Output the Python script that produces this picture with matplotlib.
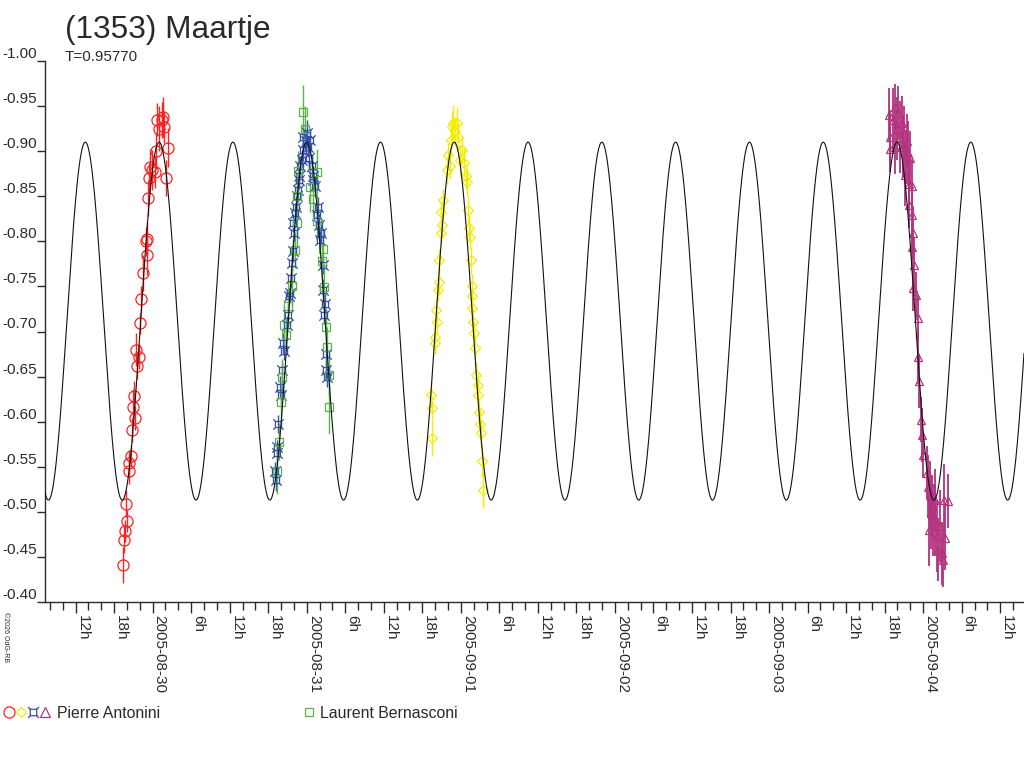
import datetime
import numpy as np
import matplotlib
matplotlib.use('Agg')
import matplotlib.pyplot as plt
import matplotlib.dates as mdates
from matplotlib.lines import Line2D
from matplotlib.path import Path
from matplotlib.legend_handler import HandlerTuple
from matplotlib.ticker import MultipleLocator, FormatStrFormatter, FuncFormatter

plt.rcParams['font.family'] = ['Liberation Sans', 'DejaVu Sans']

# times: days since 2005-08-29 00:00 UT, values: relative magnitude
BASE = datetime.datetime(2005, 8, 29)
PERIOD = 0.95770
EPOCH = 0.563          # time of a maximum of the fitted curve
MEAN_MAG = -0.7115
HALF_AMP = 0.1985
X_RANGE = (0.3014, 6.6545)

red_t = [0.806, 0.816, 0.821, 0.829, 0.832, 0.845, 0.849, 0.858, 0.864, 0.871,
         0.879, 0.886, 0.894, 0.900, 0.910, 0.920, 0.926, 0.939, 0.955, 0.961,
         0.965, 0.972, 0.974, 0.983, 0.994, 1.015, 1.022, 1.030, 1.043, 1.059,
         1.069, 1.074, 1.087, 1.102]
red_m = [-0.441, -0.469, -0.479, -0.509, -0.490, -0.545, -0.554, -0.562, -0.591, -0.616,
         -0.629, -0.604, -0.680, -0.662, -0.672, -0.709, -0.736, -0.765, -0.800, -0.785,
         -0.803, -0.848, -0.870, -0.882, -0.879, -0.877, -0.900, -0.935, -0.925, -0.935,
         -0.938, -0.927, -0.870, -0.904]
red_e = [0.020, 0.015, 0.012, 0.015, 0.012, 0.014, 0.015, 0.012, 0.013, 0.020,
         0.016, 0.013, 0.018, 0.015, 0.014, 0.012, 0.015, 0.020, 0.016, 0.022,
         0.018, 0.020, 0.017, 0.020, 0.022, 0.018, 0.020, 0.018, 0.025, 0.020,
         0.022, 0.018, 0.020, 0.022]

blue_t = [1.794, 1.800, 1.805, 1.809, 1.815, 1.826, 1.831, 1.841, 1.848, 1.852,
          1.870, 1.880, 1.887, 1.891, 1.896, 1.902, 1.909, 1.913, 1.917, 1.924,
          1.930, 1.939, 1.945, 1.950, 1.952, 1.956, 1.967, 1.974, 1.978, 1.995,
          2.000, 2.010, 2.017, 2.021, 2.032, 2.039, 2.043, 2.054, 2.065, 2.075,
          2.082, 2.086, 2.092, 2.104, 2.107, 2.110, 2.118, 2.122, 2.125, 2.133]
blue_m = [-0.545, -0.535, -0.565, -0.572, -0.597, -0.639, -0.630, -0.657, -0.687, -0.678,
          -0.707, -0.718, -0.739, -0.743, -0.759, -0.776, -0.789, -0.820, -0.809, -0.831,
          -0.838, -0.850, -0.857, -0.872, -0.868, -0.883, -0.890, -0.916, -0.901, -0.911,
          -0.920, -0.905, -0.892, -0.912, -0.883, -0.868, -0.872, -0.861, -0.829, -0.838,
          -0.818, -0.802, -0.809, -0.774, -0.746, -0.718, -0.731, -0.657, -0.675, -0.649]
blue_e = [0.010, 0.012, 0.010, 0.008, 0.010, 0.012, 0.010, 0.009, 0.011, 0.010,
          0.010, 0.012, 0.009, 0.010, 0.011, 0.010, 0.012, 0.010, 0.009, 0.011,
          0.012, 0.010, 0.013, 0.011, 0.010, 0.012, 0.011, 0.014, 0.012, 0.013,
          0.015, 0.012, 0.011, 0.013, 0.012, 0.010, 0.011, 0.012, 0.010, 0.011,
          0.012, 0.010, 0.011, 0.010, 0.012, 0.010, 0.011, 0.010, 0.012, 0.010]

green_t = [1.809, 1.822, 1.833, 1.839, 1.852, 1.865, 1.880, 1.902, 1.924, 1.935,
           1.938, 1.945, 1.978, 1.989, 2.021, 2.039, 2.065, 2.067, 2.097, 2.107,
           2.110, 2.123, 2.130, 2.144, 2.146]
green_m = [-0.545, -0.578, -0.622, -0.649, -0.707, -0.696, -0.728, -0.750, -0.790, -0.820,
           -0.850, -0.878, -0.943, -0.925, -0.860, -0.847, -0.877, -0.822, -0.778, -0.792,
           -0.749, -0.705, -0.683, -0.652, -0.616]
green_e = [0.025, 0.020, 0.018, 0.020, 0.022, 0.018, 0.020, 0.022, 0.020, 0.025,
           0.020, 0.022, 0.030, 0.025, 0.028, 0.020, 0.025, 0.022, 0.020, 0.022,
           0.025, 0.020, 0.022, 0.025, 0.030]

yellow_t = [2.806, 2.811, 2.813, 2.832, 2.834, 2.837, 2.843, 2.854, 2.858, 2.860,
            2.871, 2.873, 2.876, 2.886, 2.908, 2.919, 2.930, 2.936, 2.941, 2.951,
            2.962, 2.973, 2.983, 2.995, 3.006, 3.022, 3.032, 3.038, 3.044, 3.053,
            3.059, 3.068, 3.070, 3.072, 3.074, 3.081, 3.087, 3.092, 3.096, 3.109,
            3.113, 3.115, 3.124, 3.131, 3.139, 3.146]
yellow_m = [-0.630, -0.582, -0.615, -0.687, -0.694, -0.724, -0.711, -0.746, -0.755, -0.779,
            -0.809, -0.833, -0.818, -0.846, -0.879, -0.896, -0.883, -0.912, -0.927, -0.931,
            -0.922, -0.931, -0.916, -0.890, -0.901, -0.887, -0.872, -0.866, -0.835, -0.815,
            -0.805, -0.779, -0.750, -0.739, -0.726, -0.711, -0.698, -0.682, -0.652, -0.641,
            -0.630, -0.611, -0.597, -0.587, -0.556, -0.524]
yellow_e = [0.015, 0.020, 0.012, 0.012, 0.014, 0.012, 0.013, 0.012, 0.015, 0.012,
            0.013, 0.012, 0.014, 0.012, 0.015, 0.013, 0.014, 0.016, 0.018, 0.020,
            0.016, 0.018, 0.015, 0.017, 0.015, 0.016, 0.014, 0.015, 0.016, 0.014,
            0.013, 0.015, 0.014, 0.013, 0.012, 0.014, 0.013, 0.012, 0.014, 0.013,
            0.015, 0.014, 0.016, 0.015, 0.017, 0.020]

mag_t = [5.778, 5.783, 5.785, 5.806, 5.817, 5.819, 5.828, 5.839, 5.850, 5.861,
         5.871, 5.878, 5.882, 5.886, 5.893, 5.904, 5.906, 5.908, 5.915, 5.926,
         5.928, 5.930, 5.932, 5.936, 5.943, 5.952, 5.965, 5.969, 5.975, 5.986,
         5.991, 6.001, 6.023, 6.033, 6.038, 6.044, 6.048, 6.056, 6.066, 6.077,
         6.080, 6.088, 6.098, 6.109, 6.120, 6.131, 6.137, 6.142, 6.159]
mag_m = [-0.940, -0.902, -0.916, -0.935, -0.949, -0.905, -0.925, -0.942, -0.916, -0.931,
         -0.905, -0.920, -0.874, -0.894, -0.911, -0.898, -0.864, -0.840, -0.892, -0.829,
         -0.794, -0.861, -0.809, -0.748, -0.774, -0.741, -0.672, -0.715, -0.645, -0.602,
         -0.585, -0.563, -0.543, -0.528, -0.480, -0.521, -0.499, -0.506, -0.491, -0.513,
         -0.491, -0.473, -0.458, -0.484, -0.454, -0.447, -0.513, -0.471, -0.512]
mag_e = [0.030, 0.025, 0.030, 0.035, 0.025, 0.030, 0.035, 0.030, 0.040, 0.030,
         0.035, 0.030, 0.035, 0.030, 0.030, 0.035, 0.030, 0.025, 0.030, 0.030,
         0.025, 0.030, 0.030, 0.025, 0.030, 0.025, 0.030, 0.025, 0.030, 0.025,
         0.030, 0.025, 0.030, 0.035, 0.040, 0.035, 0.040, 0.035, 0.040, 0.035,
         0.040, 0.040, 0.035, 0.040, 0.035, 0.030, 0.040, 0.035, 0.030]

RED, YELLOW, BLUE, MAGENTA, GREEN = '#ff2020', '#f2ec00', '#3650a8', '#b3337e', '#5ab548'
INK = '#2a2a2a'

# hollow square with corner spikes for the third session
_v = [(-0.35, -0.35), (0.35, -0.35), (0.35, 0.35), (-0.35, 0.35), (-0.35, -0.35),
      (0.35, 0.35), (0.6, 0.6), (-0.35, 0.35), (-0.6, 0.6),
      (0.35, -0.35), (0.6, -0.6), (-0.35, -0.35), (-0.6, -0.6)]
_c = [Path.MOVETO, Path.LINETO, Path.LINETO, Path.LINETO, Path.CLOSEPOLY,
      Path.MOVETO, Path.LINETO, Path.MOVETO, Path.LINETO,
      Path.MOVETO, Path.LINETO, Path.MOVETO, Path.LINETO]
STAR = Path(_v, _c)

base_num = mdates.date2num(BASE)

def to_num(t):
    return base_num + np.asarray(t, dtype=float)

fig = plt.figure(figsize=(10.24, 7.68), dpi=100)
ax = fig.add_axes([45 / 1024, 1 - 602 / 768, 979 / 1024, 541 / 768])

series = [
    (red_t, red_m, red_e, RED, 'o', 8.0, 1.0),
    (blue_t, blue_m, blue_e, BLUE, STAR, 7.5, 1.0),
    (green_t, green_m, green_e, GREEN, 's', 5.4, 1.0),
    (yellow_t, yellow_m, yellow_e, YELLOW, 'D', 4.8, 1.0),
    (mag_t, mag_m, mag_e, MAGENTA, '^', 5.5, 1.3),
]
for t, m, e, col, mk, ms, elw in series:
    ax.errorbar(to_num(t), m, yerr=e, ls='none', marker=mk, ms=ms, mfc='none',
                mec=col, mew=0.9, ecolor=col, elinewidth=elw, capsize=0, zorder=2)

# fitted curve (double wave, T = 0.95770 d)
tc = np.linspace(X_RANGE[0], X_RANGE[1], 3000)
mc = MEAN_MAG - HALF_AMP * np.cos(4 * np.pi * (tc - EPOCH) / PERIOD)
ax.plot(to_num(tc), mc, color='#111111', lw=0.8, zorder=3)

ax.set_xlim(to_num(X_RANGE[0]), to_num(X_RANGE[1]))
ax.set_ylim(-0.40, -1.00)

for s in ['top', 'right']:
    ax.spines[s].set_visible(False)
for s in ['left', 'bottom']:
    ax.spines[s].set_color(INK)
    ax.spines[s].set_linewidth(1.0)

def _xfmt(x, pos):
    hrs = int(round(x * 24))
    h = hrs % 24
    if h == 0:
        return mdates.num2date(hrs / 24.0).strftime('%Y-%m-%d')
    return f'{h}h'

ax.xaxis.set_major_locator(mdates.HourLocator(byhour=[0, 6, 12, 18]))
ax.xaxis.set_minor_locator(mdates.HourLocator(byhour=range(0, 24, 2)))
ax.xaxis.set_major_formatter(FuncFormatter(_xfmt))
ax.yaxis.set_major_locator(MultipleLocator(0.05))
ax.yaxis.set_major_formatter(FormatStrFormatter('%.2f'))

ax.tick_params(axis='x', which='major', length=8, width=1, pad=1.5,
               labelsize=11, colors=INK)
ax.tick_params(axis='x', which='minor', length=5.5, width=1, colors=INK)
ax.tick_params(axis='y', length=6, width=1, pad=0, labelsize=11, colors=INK)
plt.setp(ax.get_xticklabels(), rotation=270, ha='left', va='top')
plt.setp(ax.get_yticklabels(), va='bottom')

fig.text(65 / 1024, 1 - 30 / 768, '(1353) Maartje', fontsize=22.8, color=INK,
         ha='left', va='center')
fig.text(65 / 1024, 1 - 57 / 768, 'T=0.95770', fontsize=11, color=INK,
         ha='left', va='center')
fig.text(5 / 1024, 1 - 612 / 768, '©2026 OdG-RB', fontsize=5, color=INK,
         rotation=270, ha='center', va='top')

h_r = Line2D([], [], ls='none', marker='o', ms=8, mfc='none', mec=RED, mew=0.9)
h_y = Line2D([], [], ls='none', marker='D', ms=5.2, mfc='none', mec=YELLOW, mew=0.9)
h_b = Line2D([], [], ls='none', marker=STAR, ms=8, mfc='none', mec=BLUE, mew=0.9)
h_m = Line2D([], [], ls='none', marker='^', ms=6.5, mfc='none', mec=MAGENTA, mew=0.9)
h_g = Line2D([], [], ls='none', marker='s', ms=6, mfc='none', mec=GREEN, mew=0.9)

leg_y = 1 - 713 / 768
fig.legend(handles=[(h_r, h_y, h_b, h_m)], labels=['Pierre Antonini'],
           handler_map={tuple: HandlerTuple(ndivide=None, pad=0)},
           loc='center left', bbox_to_anchor=(3 / 1024, leg_y), frameon=False,
           handlelength=3.0, handletextpad=0.4, borderpad=0, borderaxespad=0,
           prop={'size': 11.4}, labelcolor=INK)
fig.legend(handles=[h_g], labels=['Laurent Bernasconi'],
           loc='center left', bbox_to_anchor=(303 / 1024, leg_y), frameon=False,
           handlelength=0.7, handletextpad=0.4, borderpad=0, borderaxespad=0,
           prop={'size': 11.4}, labelcolor=INK)

fig.savefig('out.png', dpi=100)
